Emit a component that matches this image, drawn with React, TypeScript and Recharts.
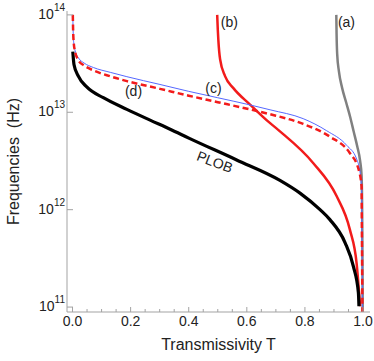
import { LineChart, Line, XAxis, YAxis, ReferenceDot } from 'recharts';

const FONT = 'Liberation Sans, Arial, Helvetica, sans-serif';
const AXIS = '#a3a3a3';

// transmissivity T, frequency (Hz)
const curveA_T = [0.908, 0.909, 0.911, 0.917, 0.928, 0.942, 0.956, 0.968, 0.980, 0.990, 0.995, 0.997, 0.998, 0.999];
const curveA_F = [1.0e14, 6.3e13, 3.98e13, 2.63e13, 1.78e13, 1.26e13, 8.9e12, 6.3e12, 4.47e12, 3.16e12, 2.24e12, 1.0e12, 3.16e11, 8.9e10];

const curveB_T = [0.498, 0.500, 0.502, 0.508, 0.525, 0.553, 0.611, 0.668, 0.708, 0.829, 0.909, 0.955, 0.978, 0.990];
const curveB_F = [1.0e14, 7.1e13, 5.5e13, 3.5e13, 2.35e13, 1.78e13, 1.2e13, 8.3e12, 6.6e12, 3.0e12, 1.38e12, 6.2e11, 2.8e11, 1.02e11];

const curveC_T = [0.001, 0.002, 0.004, 0.009, 0.02, 0.04, 0.072, 0.13, 0.187, 0.301, 0.4, 0.5, 0.611, 0.68, 0.794, 0.875, 0.944, 0.978, 0.990, 0.995, 0.996, 0.997, 0.998];
const curveC_F = [1.0e14, 7.1e13, 5.25e13, 4.27e13, 3.63e13, 3.2e13, 2.88e13, 2.57e13, 2.32e13, 1.93e13, 1.64e13, 1.41e13, 1.19e13, 1.06e13, 8.6e12, 6.46e12, 4.57e12, 3.31e12, 2.4e12, 1.58e12, 6.3e11, 2.5e11, 8.9e10];

const curveD_T = [0.001, 0.002, 0.004, 0.009, 0.02, 0.04, 0.072, 0.13, 0.187, 0.301, 0.4, 0.5, 0.611, 0.68, 0.794, 0.886, 0.955, 0.984, 0.995, 0.996, 0.997, 0.998];
const curveD_F = [1.0e14, 7.1e13, 5.25e13, 4.17e13, 3.43e13, 3.02e13, 2.69e13, 2.34e13, 2.09e13, 1.74e13, 1.48e13, 1.27e13, 1.07e13, 9.55e12, 7.59e12, 5.62e12, 3.8e12, 2.63e12, 1.74e12, 6.3e11, 2.5e11, 8.9e10];

const plobT = [0.001, 0.005, 0.02, 0.049, 0.106, 0.187, 0.267, 0.336, 0.404, 0.565, 0.714, 0.783, 0.852, 0.886, 0.938, 0.967, 0.984, 0.986];
const plobF = [4.2e13, 3.1e13, 2.35e13, 1.82e13, 1.41e13, 1.07e13, 8.3e12, 6.7e12, 5.37e12, 3.24e12, 2.0e12, 1.48e12, 1.0e12, 7.9e11, 4.6e11, 2.6e11, 1.41e11, 1.02e11];

const xTicks = [0, 0.05, 0.1, 0.15, 0.2, 0.25, 0.3, 0.35, 0.4, 0.45, 0.5, 0.55, 0.6, 0.65, 0.7, 0.75, 0.8, 0.85, 0.9, 0.95, 1.0];
const xLabels = ['0.0', '0.2', '0.4', '0.6', '0.8', '1.0'];
const yTicks = [1e11, 1e12, 1e13, 1e14];
const yExponents = ['11', '12', '13', '14'];

const toRows = (ts: number[], fs: number[]) => ts.map((T, i) => ({ T, f: fs[i] }));

const seriesA = toRows(curveA_T, curveA_F);
const seriesB = toRows(curveB_T, curveB_F);
const seriesC = toRows(curveC_T, curveC_F);
const seriesD = toRows(curveD_T, curveD_F);
const seriesPlob = toRows(plobT, plobF);

function XTick(props: any) {
  const { x, payload } = props;
  const v = payload.value;
  const major = Math.abs(v * 5 - Math.round(v * 5)) < 1e-6;
  const axisY = 312;
  return (
    <g>
      <line x1={x} x2={x} y1={axisY} y2={axisY - (major ? 5 : 3)} stroke={AXIS} strokeWidth={1} />
      {major && (
        <text x={x} y={axisY + 14} textAnchor="middle" fontSize={14} fontFamily={FONT} fill="#222">
          {xLabels[Math.round(v * 5)]}
        </text>
      )}
    </g>
  );
}

function YTick(props: any) {
  const { x, y, payload } = props;
  const i = yTicks.indexOf(payload.value);
  return (
    <g>
      <line x1={x + 2} x2={x + 8} y1={y} y2={y} stroke={AXIS} strokeWidth={1} />
      <text x={x} y={y + 4} textAnchor="end" fontSize={14} fontFamily={FONT} fill="#222">
        10<tspan fontSize={10} dy={-8}>{yExponents[i]}</tspan>
      </text>
    </g>
  );
}

function CurveLabel(text: string, angle = 0) {
  return (props: any) => {
    const { viewBox } = props;
    const cx = viewBox.x + (viewBox.width || 0) / 2;
    const cy = viewBox.y + (viewBox.height || 0) / 2;
    return (
      <text x={cx} y={cy} textAnchor="middle" dominantBaseline="central" fontSize={14} fontFamily={FONT} fill="#222"
        transform={angle ? `rotate(${angle} ${cx} ${cy})` : undefined}>
        {text}
      </text>
    );
  };
}

function YTitle(props: any) {
  const { viewBox } = props;
  const cy = viewBox.y + viewBox.height / 2;
  return (
    <text x={13} y={cy} transform={`rotate(-90 13 ${cy})`} textAnchor="middle" dominantBaseline="central"
      fontSize={16} fontFamily={FONT} fill="#222" style={{ whiteSpace: 'pre' }}>
      {'Frequencies  (Hz)'}
    </text>
  );
}

export default function App() {
  const yDomain = [8.9e10, 1.096e14];
  return (
    <div style={{ position: 'absolute', left: 0, top: 0, background: '#fff' }}>
      <LineChart width={374} height={361} margin={{ top: 11, right: 4, bottom: 19, left: 0 }}>
        <XAxis dataKey="T" type="number" domain={[-0.019, 1.024]} allowDataOverflow ticks={xTicks} interval={0}
          tick={<XTick />} tickLine={false} axisLine={{ stroke: AXIS }} height={30}
          label={{ value: 'Transmissivity T', position: 'bottom', offset: -3, fontSize: 16, fontFamily: FONT, fill: '#222' }} />
        <XAxis xAxisId="top" orientation="top" type="number" domain={[-0.019, 1.024]} height={0}
          tick={false} tickLine={false} axisLine={{ stroke: AXIS }} />
        <YAxis type="number" scale="log" domain={yDomain} allowDataOverflow ticks={yTicks} interval={0}
          width={67} tick={<YTick />} tickLine={false} tickSize={0} tickMargin={2} axisLine={{ stroke: AXIS }}
          label={<YTitle />} />
        <YAxis yAxisId="right" orientation="right" type="number" scale="log" domain={yDomain} allowDataOverflow
          width={0} tick={false} tickLine={false} axisLine={{ stroke: AXIS }} />

        <Line data={seriesA} dataKey="f" type="monotone" stroke="#808080" strokeWidth={2.5} dot={false} isAnimationActive={false} />
        <Line data={seriesB} dataKey="f" type="monotone" stroke="#f21b1b" strokeWidth={2.5} dot={false} isAnimationActive={false} />
        <Line data={seriesPlob} dataKey="f" type="monotone" stroke="#000" strokeWidth={3.2} dot={false} isAnimationActive={false} />
        <Line data={seriesC} dataKey="f" type="monotone" stroke="#5668ff" strokeWidth={1} dot={false} isAnimationActive={false} />
        <Line data={seriesD} dataKey="f" type="monotone" stroke="#f21b1b" strokeWidth={2.5} strokeDasharray="6 3.5" dot={false} isAnimationActive={false} />

        <ReferenceDot x={0.943} y={8.5e13} r={0} label={CurveLabel('(a)')} />
        <ReferenceDot x={0.54} y={8.5e13} r={0} label={CurveLabel('(b)')} />
        <ReferenceDot x={0.485} y={1.78e13} r={0} label={CurveLabel('(c)')} />
        <ReferenceDot x={0.21} y={1.66e13} r={0} label={CurveLabel('(d)')} />
        <ReferenceDot x={0.49} y={3.1e12} r={0} label={CurveLabel('PLOB', 21)} />
      </LineChart>
    </div>
  );
}
